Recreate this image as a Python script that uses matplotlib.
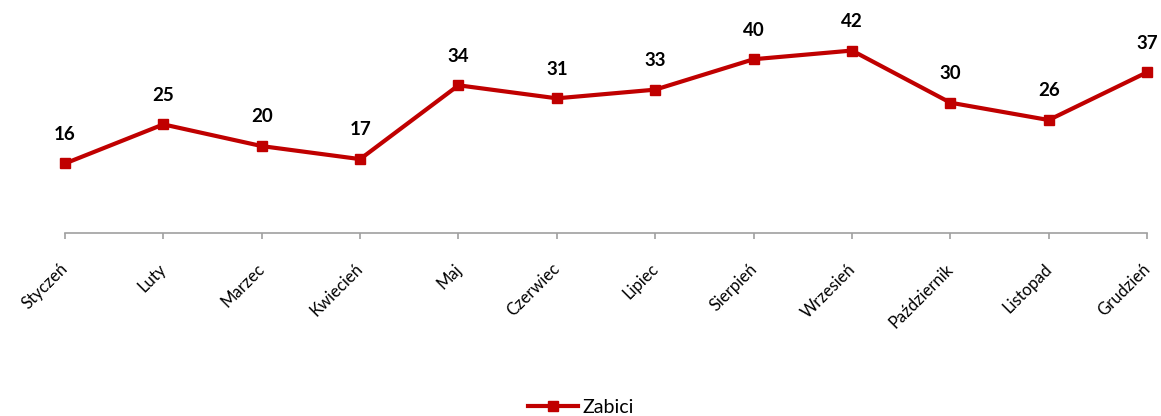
import matplotlib.pyplot as plt
import matplotlib.transforms as mtransforms

plt.rcParams['font.family'] = ['Lato', 'DejaVu Sans']

months = ['Styczeń', 'Luty', 'Marzec', 'Kwiecień', 'Maj', 'Czerwiec', 'Lipiec',
          'Sierpień', 'Wrzesień', 'Październik', 'Listopad', 'Grudzień']
zabici = [16, 25, 20, 17, 34, 31, 33, 40, 42, 30, 26, 37]

red = '#C00000'

fig = plt.figure(figsize=(11.61, 4.16), dpi=100)
ax = fig.add_axes([0.056, 0.44, 0.932, 0.522])

x = list(range(len(months)))
ax.plot(x, zabici, color=red, lw=3, marker='s', ms=7.5, label='Zabici', clip_on=False)

for xi, v in zip(x, zabici):
    ax.annotate(str(v), (xi, v), xytext=(0, 21), textcoords='offset points',
                ha='center', va='center', fontsize=13.5, fontweight='bold')

ax.set_xlim(0, 11)
ax.set_ylim(0, 50)
ax.set_xticks(x)
ax.set_xticklabels(months, rotation=45, ha='right', rotation_mode='anchor', fontsize=12)
ax.tick_params(axis='x', length=4, width=1.2, color='#A0A0A0', pad=16)
# shift labels a little to the left, like in the original
shift = mtransforms.ScaledTranslation(-5 / 100, 0, fig.dpi_scale_trans)
for lbl in ax.get_xticklabels():
    lbl.set_transform(lbl.get_transform() + shift)
ax.set_yticks([])
for s in ['top', 'right', 'left']:
    ax.spines[s].set_visible(False)
ax.spines['bottom'].set_color('#A0A0A0')
ax.spines['bottom'].set_linewidth(1.2)

fig.legend(loc='center', bbox_to_anchor=(0.5, 0.02), frameon=False, fontsize=14,
           handlelength=2.6, handletextpad=0.2)

fig.savefig('out.png', dpi=100)
